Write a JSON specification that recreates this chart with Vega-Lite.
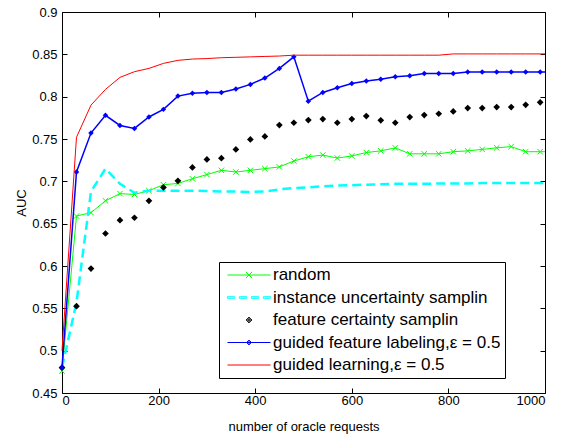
{
  "$schema": "https://vega.github.io/schema/vega-lite/v6.json",
  "width": 483,
  "height": 381,
  "autosize": {"type": "none"},
  "padding": {"left": 62, "top": 12, "right": 16, "bottom": 41},
  "background": "white",
  "config": {
    "view": {"stroke": null},
    "font": "Liberation Sans",
    "axis": {
      "grid": false,
      "domainColor": "#000000",
      "domainWidth": 1,
      "tickColor": "#000000",
      "tickWidth": 1,
      "tickSize": -5,
      "labelColor": "#000000",
      "titleColor": "#000000",
      "labelFont": "Liberation Sans",
      "titleFont": "Liberation Sans",
      "labelFontSize": 13,
      "titleFontSize": 13,
      "titleFontWeight": "normal"
    },
    "legend": {
      "orient": "none",
      "legendX": 157,
      "legendY": 250,
      "strokeColor": "#000000",
      "strokeWidth": 1,
      "fillColor": "#ffffff",
      "padding": 4.5,
      "cornerRadius": 0,
      "labelFont": "Liberation Sans",
      "labelFontSize": 17,
      "labelColor": "#000000",
      "symbolSize": 256,
      "symbolOffset": 17,
      "labelOffset": 15.5,
      "rowPadding": 4.5,
      "symbolStrokeWidth": 1,
      "labelLimit": 400
    }
  },
  "datasets": {
    "random": [
      {"x": 0, "y": 0.476}, {"x": 30, "y": 0.659}, {"x": 60, "y": 0.663}, {"x": 90, "y": 0.677}, {"x": 120, "y": 0.6855},
      {"x": 150, "y": 0.6845}, {"x": 180, "y": 0.689}, {"x": 210, "y": 0.696}, {"x": 240, "y": 0.6975}, {"x": 270, "y": 0.703},
      {"x": 300, "y": 0.708}, {"x": 330, "y": 0.713}, {"x": 360, "y": 0.711}, {"x": 390, "y": 0.713}, {"x": 420, "y": 0.715},
      {"x": 450, "y": 0.717}, {"x": 480, "y": 0.724}, {"x": 510, "y": 0.729}, {"x": 540, "y": 0.731}, {"x": 570, "y": 0.7275},
      {"x": 600, "y": 0.73}, {"x": 630, "y": 0.734}, {"x": 660, "y": 0.736}, {"x": 690, "y": 0.7395}, {"x": 720, "y": 0.7325},
      {"x": 750, "y": 0.7325}, {"x": 780, "y": 0.7325}, {"x": 810, "y": 0.735}, {"x": 840, "y": 0.736}, {"x": 870, "y": 0.7377},
      {"x": 900, "y": 0.7396}, {"x": 930, "y": 0.741}, {"x": 960, "y": 0.735}, {"x": 990, "y": 0.735}, {"x": 1000, "y": 0.735}
    ],
    "instance": [
      {"x": 0, "y": 0.48}, {"x": 30, "y": 0.557}, {"x": 60, "y": 0.688}, {"x": 90, "y": 0.715}, {"x": 120, "y": 0.697},
      {"x": 150, "y": 0.6865}, {"x": 180, "y": 0.689}, {"x": 210, "y": 0.689}, {"x": 240, "y": 0.689}, {"x": 270, "y": 0.689},
      {"x": 300, "y": 0.6885}, {"x": 330, "y": 0.688}, {"x": 360, "y": 0.688}, {"x": 390, "y": 0.6875}, {"x": 420, "y": 0.688},
      {"x": 450, "y": 0.6905}, {"x": 480, "y": 0.692}, {"x": 510, "y": 0.693}, {"x": 540, "y": 0.694}, {"x": 570, "y": 0.695},
      {"x": 600, "y": 0.6955}, {"x": 630, "y": 0.696}, {"x": 660, "y": 0.6965}, {"x": 690, "y": 0.697}, {"x": 720, "y": 0.697},
      {"x": 750, "y": 0.697}, {"x": 780, "y": 0.6975}, {"x": 810, "y": 0.6975}, {"x": 840, "y": 0.6975}, {"x": 870, "y": 0.698},
      {"x": 900, "y": 0.698}, {"x": 930, "y": 0.698}, {"x": 960, "y": 0.698}, {"x": 990, "y": 0.698}, {"x": 1000, "y": 0.698}
    ],
    "feature": [
      {"x": 0, "y": 0.48}, {"x": 30, "y": 0.5525}, {"x": 60, "y": 0.597}, {"x": 90, "y": 0.6384}, {"x": 120, "y": 0.6541},
      {"x": 150, "y": 0.657}, {"x": 180, "y": 0.677}, {"x": 210, "y": 0.6928}, {"x": 240, "y": 0.7006}, {"x": 270, "y": 0.7164},
      {"x": 300, "y": 0.7259}, {"x": 330, "y": 0.7274}, {"x": 360, "y": 0.7377}, {"x": 390, "y": 0.7495}, {"x": 420, "y": 0.7531},
      {"x": 450, "y": 0.7664}, {"x": 480, "y": 0.7692}, {"x": 510, "y": 0.7723}, {"x": 540, "y": 0.7735}, {"x": 570, "y": 0.7692},
      {"x": 600, "y": 0.7735}, {"x": 630, "y": 0.7771}, {"x": 660, "y": 0.772}, {"x": 690, "y": 0.7692}, {"x": 720, "y": 0.7759},
      {"x": 750, "y": 0.7783}, {"x": 780, "y": 0.7798}, {"x": 810, "y": 0.7826}, {"x": 840, "y": 0.7865}, {"x": 870, "y": 0.7865},
      {"x": 900, "y": 0.7877}, {"x": 930, "y": 0.7877}, {"x": 960, "y": 0.7904}, {"x": 990, "y": 0.7933}
    ],
    "guidedFeature": [
      {"x": 0, "y": 0.48}, {"x": 30, "y": 0.711}, {"x": 60, "y": 0.757}, {"x": 90, "y": 0.778}, {"x": 120, "y": 0.766},
      {"x": 150, "y": 0.7625}, {"x": 180, "y": 0.776}, {"x": 210, "y": 0.785}, {"x": 240, "y": 0.8007}, {"x": 270, "y": 0.804},
      {"x": 300, "y": 0.805}, {"x": 330, "y": 0.805}, {"x": 360, "y": 0.809}, {"x": 390, "y": 0.8145}, {"x": 420, "y": 0.822},
      {"x": 450, "y": 0.8334}, {"x": 480, "y": 0.847}, {"x": 510, "y": 0.7946}, {"x": 540, "y": 0.805}, {"x": 570, "y": 0.8106},
      {"x": 600, "y": 0.8155}, {"x": 630, "y": 0.8184}, {"x": 660, "y": 0.8206}, {"x": 690, "y": 0.8234}, {"x": 720, "y": 0.8247},
      {"x": 750, "y": 0.8273}, {"x": 780, "y": 0.8273}, {"x": 810, "y": 0.8273}, {"x": 840, "y": 0.829}, {"x": 870, "y": 0.829},
      {"x": 900, "y": 0.829}, {"x": 930, "y": 0.829}, {"x": 960, "y": 0.829}, {"x": 990, "y": 0.829}, {"x": 1000, "y": 0.829}
    ],
    "guidedLearning": [
      {"x": 0, "y": 0.5}, {"x": 30, "y": 0.752}, {"x": 60, "y": 0.79}, {"x": 90, "y": 0.8086}, {"x": 120, "y": 0.8228},
      {"x": 150, "y": 0.8295}, {"x": 180, "y": 0.8334}, {"x": 210, "y": 0.8393}, {"x": 240, "y": 0.8429}, {"x": 270, "y": 0.8444},
      {"x": 300, "y": 0.845}, {"x": 330, "y": 0.846}, {"x": 360, "y": 0.8465}, {"x": 390, "y": 0.847}, {"x": 420, "y": 0.8475},
      {"x": 450, "y": 0.848}, {"x": 480, "y": 0.849}, {"x": 510, "y": 0.849}, {"x": 540, "y": 0.849}, {"x": 570, "y": 0.849},
      {"x": 600, "y": 0.849}, {"x": 630, "y": 0.849}, {"x": 660, "y": 0.849}, {"x": 690, "y": 0.849}, {"x": 720, "y": 0.849},
      {"x": 750, "y": 0.849}, {"x": 780, "y": 0.849}, {"x": 810, "y": 0.8505}, {"x": 840, "y": 0.8505}, {"x": 870, "y": 0.8505},
      {"x": 900, "y": 0.8505}, {"x": 930, "y": 0.8505}, {"x": 960, "y": 0.8505}, {"x": 990, "y": 0.8505}, {"x": 1000, "y": 0.8505}
    ],
    "legendRows": [
      {"series": "random", "x": 0, "y": 0.5},
      {"series": "instance uncertainty samplin", "x": 0, "y": 0.5},
      {"series": "feature certainty samplin", "x": 0, "y": 0.5},
      {"series": "guided feature labeling,ε = 0.5", "x": 0, "y": 0.5},
      {"series": "guided learning,ε = 0.5", "x": 0, "y": 0.5}
    ]
  },
  "resolve": {"axis": {"x": "independent", "y": "independent"}},
  "layer": [
    {
      "data": {"name": "random"},
      "mark": {"type": "line", "color": "#00ff00", "strokeWidth": 1},
      "encoding": {
        "x": {"field": "x", "type": "quantitative", "scale": {"domain": [0, 1000], "nice": false},
          "axis": {"orient": "bottom", "values": [0, 200, 400, 600, 800, 1000], "format": "d", "title": "number of oracle requests", "labelPadding": 6, "titlePadding": 13}},
        "y": {"field": "y", "type": "quantitative", "scale": {"domain": [0.45, 0.9], "nice": false, "zero": false},
          "axis": {"orient": "left", "values": [0.45, 0.5, 0.55, 0.6, 0.65, 0.7, 0.75, 0.8, 0.85, 0.9], "format": ".2~f", "title": "AUC", "labelPadding": 10, "titlePadding": 3}}
      }
    },
    {
      "data": {"name": "random"},
      "transform": [{"filter": "datum.x < 1000"}],
      "mark": {"type": "point", "shape": "M-1,-1L1,1M-1,1L1,-1", "filled": false, "color": "#00ff00", "strokeWidth": 1, "size": 30, "opacity": 1},
      "encoding": {
        "x": {"field": "x", "type": "quantitative", "axis": null},
        "y": {"field": "y", "type": "quantitative", "axis": null}
      }
    },
    {
      "data": {"name": "instance"},
      "mark": {"type": "line", "color": "#00ffff", "strokeWidth": 2.5, "strokeDash": [9, 5]},
      "encoding": {
        "x": {"field": "x", "type": "quantitative",
          "axis": {"orient": "top", "values": [0, 200, 400, 600, 800, 1000], "labels": false, "title": null}},
        "y": {"field": "y", "type": "quantitative",
          "axis": {"orient": "right", "values": [0.45, 0.5, 0.55, 0.6, 0.65, 0.7, 0.75, 0.8, 0.85, 0.9], "labels": false, "title": null}}
      }
    },
    {
      "data": {"name": "feature"},
      "mark": {"type": "point", "shape": "diamond", "filled": true, "color": "#000000", "size": 45, "opacity": 1},
      "encoding": {
        "x": {"field": "x", "type": "quantitative", "axis": null},
        "y": {"field": "y", "type": "quantitative", "axis": null}
      }
    },
    {
      "data": {"name": "guidedFeature"},
      "mark": {"type": "line", "color": "#0000ff", "strokeWidth": 1.5},
      "encoding": {
        "x": {"field": "x", "type": "quantitative", "axis": null},
        "y": {"field": "y", "type": "quantitative", "axis": null}
      }
    },
    {
      "data": {"name": "guidedFeature"},
      "transform": [{"filter": "datum.x < 1000"}],
      "mark": {"type": "point", "shape": "diamond", "filled": true, "color": "#0000ff", "size": 30, "opacity": 1},
      "encoding": {
        "x": {"field": "x", "type": "quantitative", "axis": null},
        "y": {"field": "y", "type": "quantitative", "axis": null}
      }
    },
    {
      "data": {"name": "guidedLearning"},
      "mark": {"type": "line", "color": "#ff0000", "strokeWidth": 1},
      "encoding": {
        "x": {"field": "x", "type": "quantitative", "axis": null},
        "y": {"field": "y", "type": "quantitative", "axis": null}
      }
    },
    {
      "data": {"name": "legendRows"},
      "transform": [{"filter": "datum.x > 5000"}],
      "mark": {"type": "point", "filled": false, "opacity": 1},
      "encoding": {
        "x": {"field": "x", "type": "quantitative", "axis": null},
        "y": {"field": "y", "type": "quantitative", "axis": null},
        "color": {"field": "series", "type": "nominal",
          "scale": {"domain": ["random", "instance uncertainty samplin", "feature certainty samplin", "guided feature labeling,ε = 0.5", "guided learning,ε = 0.5"],
            "range": ["#00ff00", "#00ffff", "#000000", "#0000ff", "#ff0000"]},
          "legend": {"title": null, "labelExpr": "datum.label == 'instance uncertainty samplin' ? datum.label + '\u00a0\u00a0\u00a0\u00a0\u00a0\u00a0\u00a0\u00a0\u00a0\u00a0\u00a0' : datum.label"}},
        "shape": {"field": "series", "type": "nominal",
          "scale": {"domain": ["random", "instance uncertainty samplin", "feature certainty samplin", "guided feature labeling,ε = 0.5", "guided learning,ε = 0.5"],
            "range": [
              "M-2.6875,0H2.6875M-0.4,-0.4L0.4,0.4M-0.4,0.4L0.4,-0.4",
              "M-2.6875,-0.1H-1.8V0.1H-2.6875ZM-1.2,-0.1H-0.3V0.1H-1.2ZM0.3,-0.1H1.2V0.1H0.3ZM1.8,-0.1H2.6875V0.1H1.8Z",
              "M-0.35,0L0,-0.35L0.35,0L0,0.35ZM-0.35,0H0.35M0,-0.35V0.35",
              "M-2.6875,0H2.6875M-0.3,0L0,-0.3L0.3,0L0,0.3ZM0,-0.3V0.3",
              "M-2.6875,0H2.6875"
            ]},
          "legend": {"title": null, "labelExpr": "datum.label == 'instance uncertainty samplin' ? datum.label + '\u00a0\u00a0\u00a0\u00a0\u00a0\u00a0\u00a0\u00a0\u00a0\u00a0\u00a0' : datum.label"}}
      }
    }
  ]
}
